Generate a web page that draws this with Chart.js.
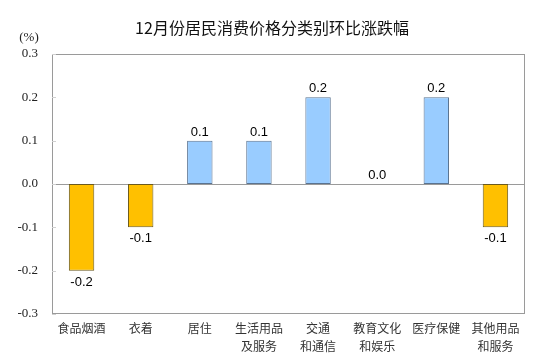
<!DOCTYPE html>
<html lang="zh">
<head>
  <meta charset="UTF-8" />
  <title>12月份居民消费价格分类别环比涨跌幅</title>
  <script src="https://cdn.jsdelivr.net/npm/chart.js@4"></script>
  <style>
    body { margin: 0; background: #fff; }
    #wrap { width: 552px; height: 362px; }
  </style>
</head>
<body>
  <div id="wrap"><canvas id="cpi" width="552" height="362"></canvas></div>

  <script>
    const categories = [
      '食品烟酒', '衣着', '居住', ['生活用品', '及服务'],
      ['交通', '和通信'], ['教育文化', '和娱乐'], '医疗保健', ['其他用品', '和服务']
    ];
    const changes = [-0.2, -0.1, 0.1, 0.1, 0.2, 0.0, 0.2, -0.1];
    const yTicks = [-0.3, -0.2, -0.1, 0.0, 0.1, 0.2, 0.3];
    const title = '12月份居民消费价格分类别环比涨跌幅';
    const unit = '(%)';

    const CJK = '"Noto Sans CJK SC", "Noto Sans", sans-serif';

    // frame + zero line under the bars, labels over them
    const decor = {
      id: 'decor',
      beforeDatasetsDraw(chart) {
        const { ctx, chartArea: a, scales } = chart;
        const y = scales.y;
        ctx.save();
        ctx.strokeStyle = '#9a9a9a';
        ctx.lineWidth = 1;
        ctx.strokeRect(a.left + 0.5, a.top + 0.5, a.right - a.left - 1, a.bottom - a.top - 1);
        const z = Math.round(y.getPixelForValue(0)) + 0.5;
        ctx.beginPath();
        ctx.moveTo(a.left, z);
        ctx.lineTo(a.right, z);
        ctx.stroke();
        // small inner ticks
        ctx.strokeStyle = '#d0d0d0';
        yTicks.forEach(v => {
          const p = Math.round(y.getPixelForValue(v)) + 0.5;
          ctx.beginPath();
          ctx.moveTo(a.left, p);
          ctx.lineTo(a.left + 4, p);
          ctx.stroke();
        });
        ctx.restore();
      },
      afterDatasetsDraw(chart) {
        const { ctx } = chart;
        ctx.save();
        ctx.fillStyle = '#000';
        ctx.font = '13px "Liberation Sans", Arial, sans-serif';
        ctx.textAlign = 'center';
        const meta = chart.getDatasetMeta(0);
        meta.data.forEach((bar, i) => {
          const v = changes[i];
          const txt = v.toFixed(1);
          if (v < 0) {
            ctx.textBaseline = 'top';
            ctx.fillText(txt, bar.x, bar.y + 5);
          } else {
            ctx.textBaseline = 'bottom';
            ctx.fillText(txt, bar.x, bar.y - 2);
          }
        });

        // title and unit
        ctx.textBaseline = 'middle';
        ctx.font = '16px ' + CJK;
        ctx.fillStyle = '#111';
        ctx.fillText(title, 272, 28);
        ctx.font = '13px "Liberation Serif", "Times New Roman", serif';
        ctx.fillStyle = '#222';
        ctx.fillText(unit, 29, 38);
        ctx.restore();
      }
    };

    new Chart(document.getElementById('cpi'), {
      type: 'bar',
      data: {
        labels: categories,
        datasets: [{
          data: changes,
          backgroundColor: changes.map(v => v < 0 ? '#FFC000' : '#99CCFF'),
          borderColor: changes.map(v => v < 0 ? '#6b5a1e' : '#5a7390'),
          borderWidth: 1,
          borderSkipped: false,
          barPercentage: 0.43,
          categoryPercentage: 1
        }]
      },
      options: {
        responsive: false,
        animation: false,
        layout: { padding: { top: 54, right: 27, left: 0, bottom: 0 } },
        plugins: {
          legend: { display: false },
          tooltip: { enabled: false }
        },
        scales: {
          x: {
            grid: { display: false, drawTicks: false },
            border: { display: false },
            ticks: {
              padding: 6,
              maxRotation: 0,
              autoSkip: false,
              color: '#333',
              font: { size: 12, family: CJK, lineHeight: 1.45 }
            },
            afterFit: s => { s.height = 48; }
          },
          y: {
            min: -0.3,
            max: 0.3,
            afterBuildTicks: s => { s.ticks = yTicks.map(v => ({ value: v })); },
            grid: { display: false, drawTicks: false },
            border: { display: false },
            ticks: {
              padding: 14,
              color: '#222',
              font: { size: 13, family: '"Liberation Serif", "Times New Roman", serif' },
              callback: v => v.toFixed(1)
            },
            afterFit: s => { s.width = 52; }
          }
        }
      },
      plugins: [decor]
    });
  </script>
</body>
</html>
